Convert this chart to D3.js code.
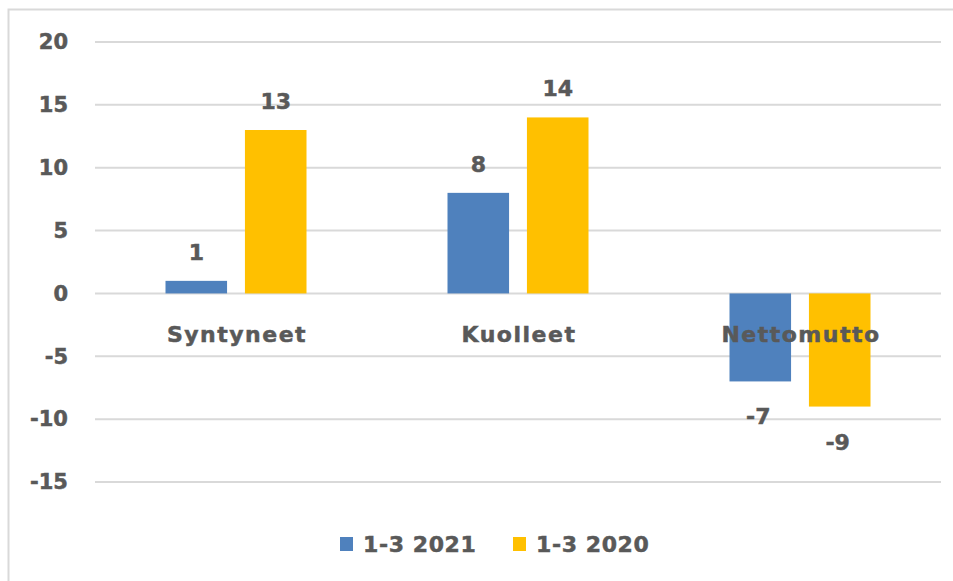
<!DOCTYPE html>
<html>
<head>
<meta charset="utf-8">
<script src="https://cdn.jsdelivr.net/npm/d3@7"></script>
<style>
  body { margin: 0; background: #fff; }
  text { font-family: "DejaVu Sans", sans-serif; font-weight: bold; fill: #595959; stroke: #595959; stroke-width: 0.5px; }
</style>
</head>
<body>
<script>
var categories = ["Syntyneet", "Kuolleet", "Nettomutto"];
var seriesNames = ["1-3 2021", "1-3 2020"];
var values2021 = [1, 8, -7];
var values2020 = [13, 14, -9];
var yTicks = [-15, -10, -5, 0, 5, 10, 15, 20];
var colors = ["#4F81BD", "#FFC000"];

var width = 953, height = 581;
var margin = {top: 42, left: 95, right: 12, bottom: 99};

var svg = d3.select("body").append("svg")
    .attr("width", width)
    .attr("height", height);

// chart frame
svg.append("rect")
    .attr("x", 8.5).attr("y", 9.5)
    .attr("width", 980).attr("height", 620)
    .attr("fill", "none")
    .attr("stroke", "#D9D9D9")
    .attr("stroke-width", 2);

var yScale = d3.scaleLinear()
    .domain([-15, 20])
    .range([height - margin.bottom, margin.top]);

var x0 = d3.scaleBand()
    .domain(categories)
    .range([margin.left, width - margin.right])
    .paddingInner(0.5)
    .paddingOuter(0.25);

var x1 = d3.scaleBand()
    .domain(seriesNames)
    .range([0, x0.bandwidth()])
    .paddingInner(0.225);

// gridlines
svg.append("g")
    .selectAll("line")
    .data(yTicks)
    .enter()
    .append("line")
    .attr("x1", margin.left)
    .attr("x2", width - margin.right)
    .attr("y1", function(d){ return yScale(d); })
    .attr("y2", function(d){ return yScale(d); })
    .attr("stroke", "#D9D9D9")
    .attr("stroke-width", 2);

// y axis labels (plain hyphen for negatives)
var yAxis = d3.axisLeft(yScale)
    .tickValues(yTicks)
    .tickSize(0)
    .tickPadding(0)
    .tickFormat(function(d){ return String(d); });
var gy = svg.append("g")
    .attr("transform", "translate(" + (margin.left - 27) + ",0)")
    .call(yAxis);
gy.select(".domain").remove();
gy.selectAll("text")
    .attr("font-size", 21)
    .style("font-family", "DejaVu Sans, sans-serif")
    .attr("fill", "#595959");

// bars
var rows = categories.map(function(c, i){
  return {cat: c, vals: [values2021[i], values2020[i]]};
});

var groups = svg.selectAll(".grp")
    .data(rows)
    .enter()
    .append("g")
    .attr("transform", function(d){ return "translate(" + x0(d.cat) + ",0)"; });

groups.selectAll("rect")
    .data(function(d){ return d.vals.map(function(v, j){ return {s: seriesNames[j], v: v, j: j}; }); })
    .enter()
    .append("rect")
    .attr("x", function(d){ return x1(d.s); })
    .attr("width", x1.bandwidth())
    .attr("y", function(d){ return yScale(Math.max(0, d.v)); })
    .attr("height", function(d){ return Math.abs(yScale(d.v) - yScale(0)); })
    .attr("fill", function(d){ return colors[d.j]; });

// value labels
groups.selectAll(".val")
    .data(function(d){ return d.vals.map(function(v, j){ return {s: seriesNames[j], v: v, j: j}; }); })
    .enter()
    .append("text")
    .attr("x", function(d){ return x1(d.s) + x1.bandwidth() / 2 - (d.v < 0 ? 2 : 0); })
    .attr("y", function(d){ return d.v >= 0 ? yScale(d.v) - 21 : yScale(d.v) + 43; })
    .attr("text-anchor", "middle")
    .attr("font-size", 22)
    .text(function(d){ return d.v; });

// category labels
svg.selectAll(".cat")
    .data(categories)
    .enter()
    .append("text")
    .attr("x", function(d){ return x0(d) + x0.bandwidth() / 2 + 1; })
    .attr("y", yScale(0) + 49)
    .attr("text-anchor", "middle")
    .attr("font-size", 22)
    .style("letter-spacing", "1.5px")
    .text(function(d){ return d; });

// legend
var legendX = [340, 513];
var legend = svg.selectAll(".leg")
    .data(seriesNames)
    .enter()
    .append("g")
    .attr("transform", function(d, i){ return "translate(" + legendX[i] + ",537)"; });

legend.append("rect")
    .attr("width", 13).attr("height", 14)
    .attr("fill", function(d, i){ return colors[i]; });

legend.append("text")
    .attr("x", 23)
    .attr("y", 15)
    .attr("font-size", 22)
    .style("letter-spacing", "0.6px")
    .text(function(d){ return d; });
</script>
</body>
</html>
